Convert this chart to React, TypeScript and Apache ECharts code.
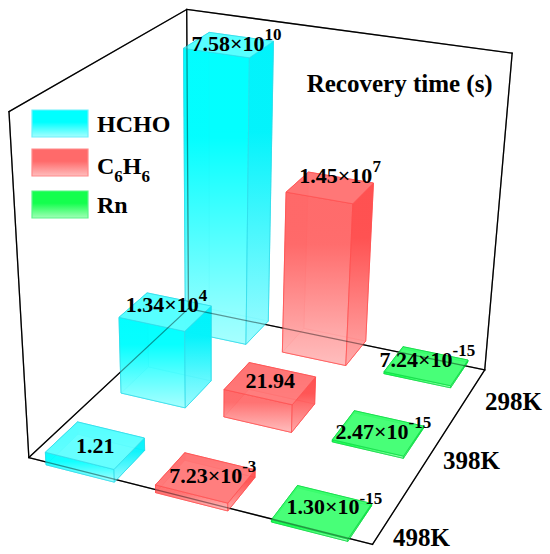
import React, { useEffect, useRef } from 'react';
import * as echarts from 'echarts';

// ---------------- data ----------------
const compounds = ['HCHO', 'C6H6', 'Rn'];
const temperatures = ['298K', '398K', '498K'];

// recovery time (s) at 298K, 398K, 498K
const hchoTime = [7.58e10, 1.34e4, 1.21];
const c6h6Time = [1.45e7, 21.94, 7.23e-3];
const rnTime = [7.24e-15, 2.47e-15, 1.3e-15];

// drawn bar height, % of the vertical axis
const hchoHeight = [93, 25, 4];
const c6h6Height = [53.5, 9, 2.4];
const rnHeight = [0.7, 0.7, 0.7];

const axisTitle = 'Recovery time (s)';

// ---------------- layout ----------------
const FONT = "'Liberation Serif', 'Times New Roman', serif";
const FRAME_CORNERS = [
  { p: [0, 0, 0], s: [29.3, 456.7] },
  { p: [1, 0, 0], s: [372.7, 545] },
  { p: [1, 1, 0], s: [485, 369.3] },
  { p: [0, 1, 0], s: [187.7, 309.5] },
  { p: [0, 0, 1], s: [8.3, 112] },
  { p: [0, 1, 1], s: [187.7, 9] },
  { p: [1, 1, 1], s: [511.7, 53.3] },
];
const COL_HALF = 0.105;
const ROW_HALF = 0.088;
const ROW_FIRST = 0.075;
const ROW_STEP = 0.432;
const LABEL_NUDGE = [
  [[7.7, -1.3], [10, -12.3], [1, -6.5]],
  [[1, -7.6], [0, -3], [5, -1.5]],
  [[0, 0], [7, -2.2], [12.3, -4.6]],
];
const ROW_LABEL_AT = [[485, 410], [443, 468.3], [393, 546]];
const TITLE_AT = [306.7, 91.7];
const LEGEND_X = 32, LEGEND_W = 56, LEGEND_H = 27;
const LEGEND_TOPS = [110, 149, 191];
const LEGEND_TEXT_X = 97;
const LEGEND_BASE = [131.7, 174, 213.3];

const PALETTE = [
  { front: ['#00ffff', '#a6ffff'], side: ['#00f2fb', '#98fbff'], top: '#5effff', edge: '#2fdbe9', border: '#6ef0fb' },
  { front: ['#ff6a6a', '#ffbdbd'], side: ['#ff4d4d', '#ffa6a6'], top: '#ff7777', edge: '#ff5050', border: '#ff8a8a' },
  { front: ['#14ff4e', '#a0ffb6'], side: ['#00ee3c', '#8cf5a4'], top: '#3dff70', edge: '#0fd945', border: '#5cf58a' },
];

const times = [hchoTime, c6h6Time, rnTime];
const heights = [hchoHeight, c6h6Height, rnHeight];

function solveCamera(): number[] {
  const rows: number[][] = [];
  const rhs: number[] = [];
  for (const c of FRAME_CORNERS) {
    const [X, Y, Z] = c.p;
    const [x, y] = c.s;
    rows.push([X, Y, Z, 1, 0, 0, 0, 0, -x * X, -x * Y, -x * Z]);
    rhs.push(x);
    rows.push([0, 0, 0, 0, X, Y, Z, 1, -y * X, -y * Y, -y * Z]);
    rhs.push(y);
  }
  const n = 11;
  const M: number[][] = Array.from({ length: n }, () => new Array(n + 1).fill(0));
  rows.forEach((r, k) => {
    for (let i = 0; i < n; i++) {
      for (let j = 0; j < n; j++) M[i][j] += r[i] * r[j];
      M[i][n] += r[i] * rhs[k];
    }
  });
  for (let c = 0; c < n; c++) {
    let piv = c;
    for (let r = c + 1; r < n; r++) if (Math.abs(M[r][c]) > Math.abs(M[piv][c])) piv = r;
    const tmp = M[c]; M[c] = M[piv]; M[piv] = tmp;
    for (let r = 0; r < n; r++) {
      if (r === c) continue;
      const f = M[r][c] / M[c][c];
      for (let k = c; k <= n; k++) M[r][k] -= f * M[c][k];
    }
  }
  return M.map((row, i) => row[n] / row[i]);
}

const CAM = solveCamera();
function project(u: number, v: number, z: number): number[] {
  const w = CAM[8] * u + CAM[9] * v + CAM[10] * z + 1;
  return [
    (CAM[0] * u + CAM[1] * v + CAM[2] * z + CAM[3]) / w,
    (CAM[4] * u + CAM[5] * v + CAM[6] * z + CAM[7]) / w,
  ];
}

function timeRich(v: number): string {
  if (v >= 0.1 && v < 1000) return `{m|${v.toFixed(2)}}`;
  const e = Math.floor(Math.log10(v));
  const m = v / Math.pow(10, e);
  return `{m|${m.toFixed(2)}×10}{s|${e}}`;
}
function chemRich(name: string): string {
  return name
    .split(/(\d+)/)
    .filter(Boolean)
    .map((p) => (/^\d+$/.test(p) ? `{s|${p}}` : `{m|${p}}`))
    .join('');
}

const LABEL_RICH = {
  m: { fontSize: 22, fontWeight: 'bold', fontFamily: FONT, lineHeight: 34, fill: '#000' },
  s: { fontSize: 17, fontWeight: 'bold', fontFamily: FONT, lineHeight: 17, verticalAlign: 'top', fill: '#000' },
};
const LEGEND_RICH = {
  m: { fontSize: 24, fontWeight: 'bold', fontFamily: FONT, lineHeight: 37, fill: '#000' },
  s: { fontSize: 17, fontWeight: 'bold', fontFamily: FONT, lineHeight: 17, verticalAlign: 'bottom', fill: '#000' },
};

function grad(c: string[], mid = 0.3) {
  return new echarts.graphic.LinearGradient(0, 0, 0, 1, [
    { offset: 0, color: c[0] },
    { offset: mid, color: c[0] },
    { offset: 1, color: c[1] },
  ]);
}

export default function App() {
  const ref = useRef<HTMLDivElement>(null);
  useEffect(() => {
    if (!ref.current) return;
    const chart = echarts.init(ref.current, undefined, { renderer: 'svg' });

    const items: number[][] = [];
    temperatures.forEach((_t, ti) =>
      compounds.forEach((_c, ci) => items.push([ci, ti, heights[ci][ti], times[ci][ti]]))
    );

    const renderItem = (params: any, api: any) => {
      const ci = api.value(0) as number;
      const ti = api.value(1) as number;
      const hp = api.value(2) as number;
      const depth = temperatures.length - 1 - ti;
      const uc = (ci + 0.5) / compounds.length;
      const vc = ROW_FIRST + depth * ROW_STEP;
      const u0 = uc - COL_HALF, u1 = uc + COL_HALF;
      const v0 = vc - ROW_HALF, v1 = vc + ROW_HALF;
      const z = hp / 100;
      const b00 = project(u0, v0, 0), b10 = project(u1, v0, 0), b11 = project(u1, v1, 0), b01 = project(u0, v1, 0);
      const t00 = project(u0, v0, z), t10 = project(u1, v0, z), t11 = project(u1, v1, z), t01 = project(u0, v1, z);
      const pal = PALETTE[ci];
      const base = params.dataIndex * 10;
      const face = (pts: number[][], fill: any, k: number) => ({
        type: 'polygon',
        z2: base + k,
        shape: { points: pts },
        style: { fill, stroke: pal.edge, lineWidth: 0.8, opacity: 0.9, lineJoin: 'round' },
      });
      const children: any[] = [
        face([b00, b10, b11, b01], pal.front[1], 0),
        face([b01, b11, t11, t01], grad(pal.front), 1),
        face([b00, b01, t01, t00], grad(pal.side), 2),
        face([b00, b10, t10, t00], grad(pal.front), 3),
        face([b10, b11, t11, t10], grad(pal.side), 4),
        face([t00, t10, t11, t01], pal.top, 5),
      ];
      const c = project(uc, vc, z);
      const nd = LABEL_NUDGE[ti][ci];
      children.push({
        type: 'text',
        z2: 1000,
        style: {
          x: c[0] + nd[0],
          y: c[1] + nd[1],
          text: timeRich(api.value(3) as number),
          rich: LABEL_RICH,
          fill: '#000',
          fontFamily: FONT,
          fontWeight: 'bold',
          fontSize: 22,
          textAlign: 'center',
          textVerticalAlign: 'middle',
        },
      });
      return { type: 'group', children };
    };

    // frame
    const K = {
      FL: project(0, 0, 0), FR: project(1, 0, 0), BR: project(1, 1, 0), BL: project(0, 1, 0),
      TL: project(0, 0, 1), TB: project(0, 1, 1), TR: project(1, 1, 1),
    };
    const edges: [number[], number[]][] = [
      [K.FL, K.FR], [K.FR, K.BR], [K.BR, K.BL], [K.BL, K.FL],
      [K.FL, K.TL], [K.TL, K.TB], [K.TB, K.BL], [K.TB, K.TR], [K.TR, K.BR],
    ];
    const frame = (z: number, opacity: number) =>
      edges.map(([a, b]) => ({
        type: 'line',
        z,
        silent: true,
        shape: { x1: a[0], y1: a[1], x2: b[0], y2: b[1] },
        style: { stroke: '#000', lineWidth: 1.3, opacity, lineCap: 'round' },
      }));

    const legend: any[] = [];
    compounds.forEach((name, i) => {
      const pal = PALETTE[i];
      legend.push({
        type: 'rect',
        z: 5,
        shape: { x: LEGEND_X, y: LEGEND_TOPS[i], width: LEGEND_W, height: LEGEND_H },
        style: { fill: grad([pal.front[0], pal.front[1]], 0.45), stroke: pal.border, lineWidth: 1.2 },
      });
      legend.push({
        type: 'text',
        z: 5,
        style: {
          x: LEGEND_TEXT_X,
          y: LEGEND_BASE[i] - 0.33 * 24,
          text: chemRich(name),
          rich: LEGEND_RICH,
          fill: '#000',
          fontFamily: FONT,
          fontWeight: 'bold',
          fontSize: 24,
          textAlign: 'left',
          textVerticalAlign: 'middle',
        },
      });
    });

    const texts: any[] = [
      {
        type: 'text',
        z: 5,
        style: {
          x: TITLE_AT[0],
          y: TITLE_AT[1] - 0.33 * 25,
          text: axisTitle,
          fill: '#000',
          fontFamily: FONT,
          fontWeight: 'bold',
          fontSize: 25,
          textAlign: 'left',
          textVerticalAlign: 'middle',
        },
      },
      ...temperatures.map((t, i) => ({
        type: 'text',
        z: 5,
        style: {
          x: ROW_LABEL_AT[i][0],
          y: ROW_LABEL_AT[i][1] - 0.33 * 25,
          text: t,
          fill: '#000',
          fontFamily: FONT,
          fontWeight: 'bold',
          fontSize: 25,
          textAlign: 'left',
          textVerticalAlign: 'middle',
        },
      })),
    ];

    chart.setOption({
      animation: false,
      backgroundColor: '#ffffff',
      graphic: { elements: [...frame(0, 1), ...frame(3, 0.4), ...legend, ...texts] },
      series: [
        {
          type: 'custom',
          coordinateSystem: 'none',
          silent: true,
          z: 2,
          data: items,
          renderItem,
        },
      ],
    });
    return () => chart.dispose();
  }, []);
  return (
    <div
      ref={ref}
      style={{ position: 'fixed', left: 0, top: 0, width: 550, height: 554, background: '#fff' }}
    />
  );
}
